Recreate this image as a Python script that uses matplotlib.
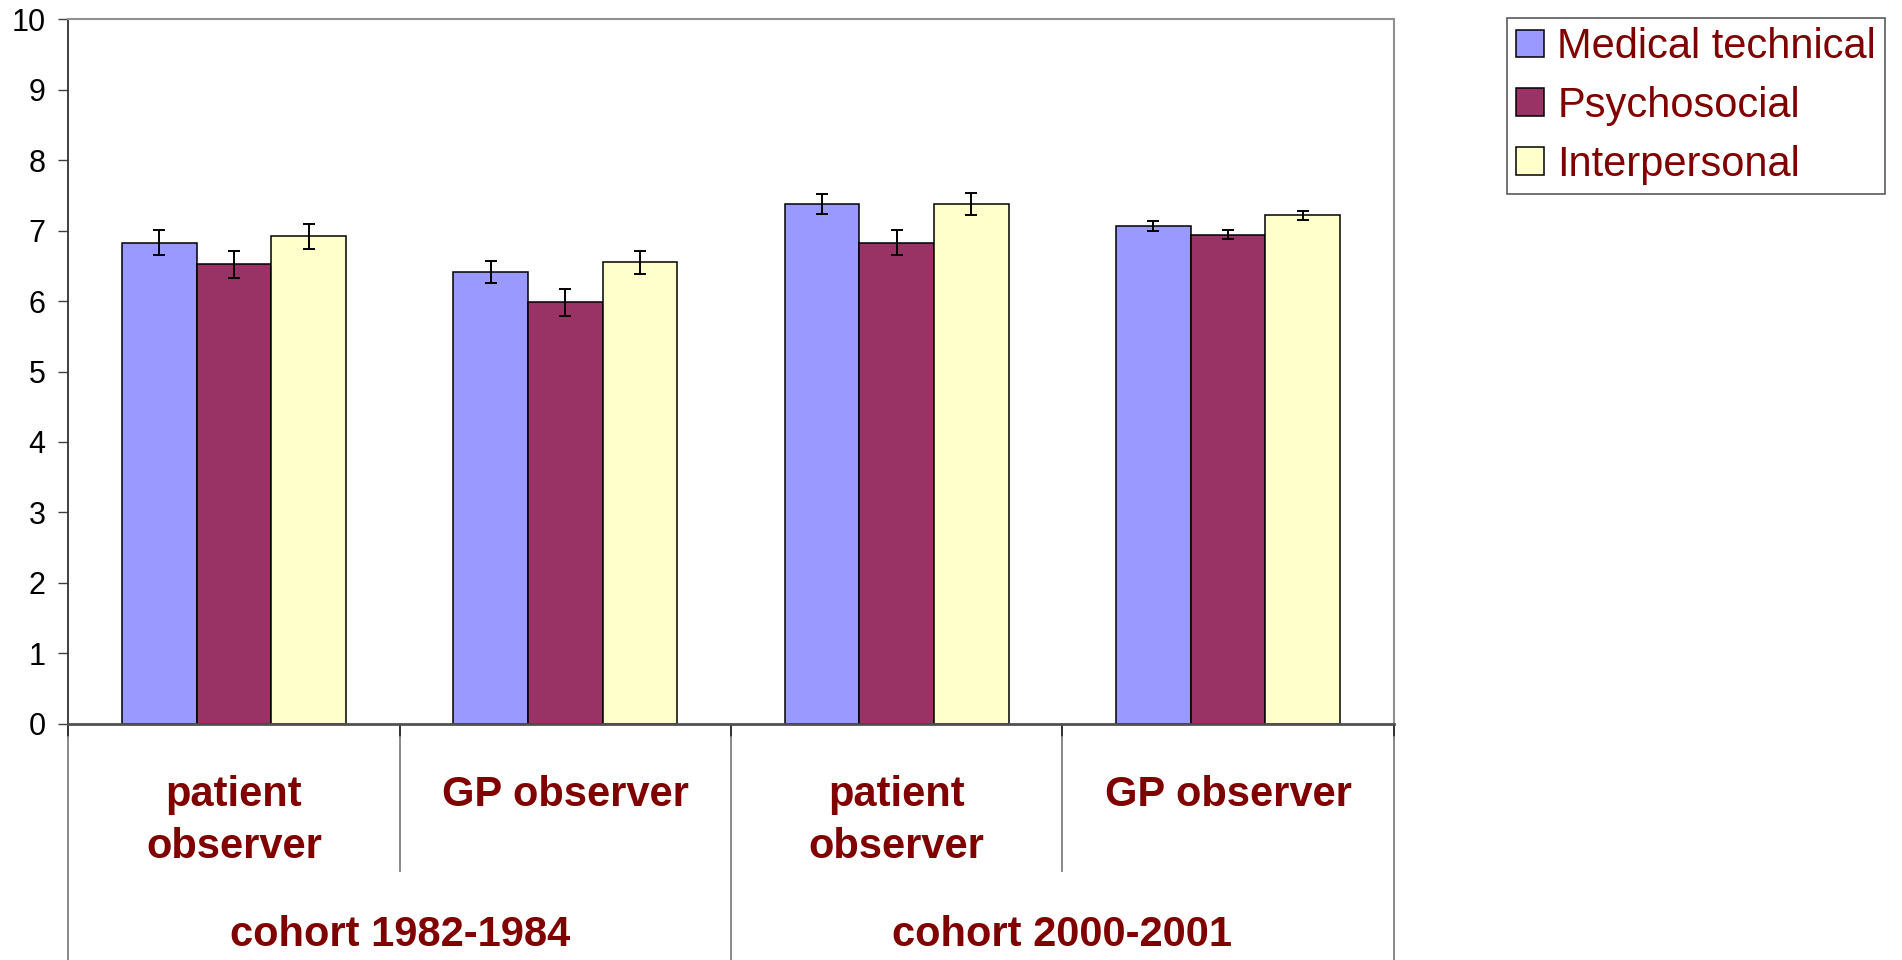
import matplotlib
matplotlib.use("Agg")
import matplotlib.pyplot as plt
import numpy as np
from matplotlib.patches import Patch
from matplotlib.lines import Line2D
from matplotlib.transforms import blended_transform_factory

plt.rcParams['font.family'] = ['Liberation Sans', 'DejaVu Sans']

# ---- data ----
observers = ["patient\nobserver", "GP observer", "patient\nobserver", "GP observer"]
cohorts = ["cohort 1982-1984", "cohort 2000-2001"]
series = ["Medical technical", "Psychosocial", "Interpersonal"]
medical = [6.83, 6.41, 7.38, 7.07]
psychosocial = [6.52, 5.98, 6.83, 6.94]
interpersonal = [6.92, 6.55, 7.38, 7.22]
medical_err = [0.175, 0.155, 0.145, 0.07]
psychosocial_err = [0.19, 0.185, 0.175, 0.065]
interpersonal_err = [0.18, 0.16, 0.155, 0.065]
yticks = list(range(0, 11))

colors = ["#9999FF", "#993366", "#FFFFCC"]
text_color = "#800000"

W, H = 1902, 960
fig = plt.figure(figsize=(W / 100, H / 100), dpi=100)
ax = fig.add_axes([68.3 / W, 1 - 723.7 / H, (1393.7 - 68.3) / W, (723.7 - 19.3) / H])

x = np.arange(len(observers))
bw = 0.225
for i, (vals, errs) in enumerate([(medical, medical_err),
                                   (psychosocial, psychosocial_err),
                                   (interpersonal, interpersonal_err)]):
    ax.bar(x + (i - 1) * bw, vals, width=bw, color=colors[i], edgecolor="black",
           linewidth=1.1, yerr=errs, capsize=4.5,
           error_kw=dict(elinewidth=1.4, capthick=1.4, ecolor="black"),
           label=series[i], zorder=2)

ax.set_xlim(-0.5, 3.5)
ax.set_ylim(0, 10)
ax.set_yticks(yticks)
ax.set_yticklabels([str(t) for t in yticks], fontsize=22)
ax.tick_params(axis='y', direction='out', length=7.5, width=1, color='#404040', pad=9)
ax.set_xticks([-0.5, 0.5, 1.5, 2.5, 3.5])
ax.set_xticklabels([])
ax.tick_params(axis='x', direction='out', length=9.5, width=1.4, color='#303030')

for s in ['top', 'right']:
    ax.spines[s].set_color('#909090')
    ax.spines[s].set_linewidth(1.5)
ax.spines['left'].set_color('#303030')
ax.spines['left'].set_linewidth(1.3)
ax.spines['bottom'].set_color('#505050')
ax.spines['bottom'].set_linewidth(2)

# category axis separator lines
tr = blended_transform_factory(ax.transData, fig.transFigure)
for xb, bottom in [(-0.5, 960), (0.5, 871), (1.5, 960), (2.5, 871), (3.5, 960)]:
    ax.add_line(Line2D([xb, xb], [1 - 737 / H, 1 - bottom / H], transform=tr,
                       color='#808080', lw=1.3, clip_on=False))

# first-level labels
for xi, lab in zip(x, observers):
    lines = lab.split("\n")
    for j, ln in enumerate(lines):
        ax.text(xi, 1 - (806 + 52 * j) / H, ln, transform=tr, ha='center',
                va='baseline', fontsize=30, fontweight='bold', color=text_color)

# second-level labels
for k, lab in enumerate(cohorts):
    ax.text(0.5 + 2 * k, 1 - 946 / H, lab, transform=tr, ha='center',
            va='baseline', fontsize=30, fontweight='bold', color=text_color)

handles = [Patch(facecolor=c, edgecolor='black', linewidth=1.1) for c in colors]
leg = fig.legend(handles, series, loc='upper left',
                 bbox_to_anchor=(1507 / W, 1 - 18 / H), borderaxespad=0,
                 fontsize=30, frameon=True, fancybox=False, shadow=False,
                 handlelength=0.66, handleheight=0.64, handletextpad=0.33,
                 labelspacing=0.45, borderpad=0.22)
leg.get_frame().set_edgecolor('#303030')
leg.get_frame().set_linewidth(1.2)
for t in leg.get_texts():
    t.set_color(text_color)

fig.savefig("out.png", dpi=100, facecolor='white')
